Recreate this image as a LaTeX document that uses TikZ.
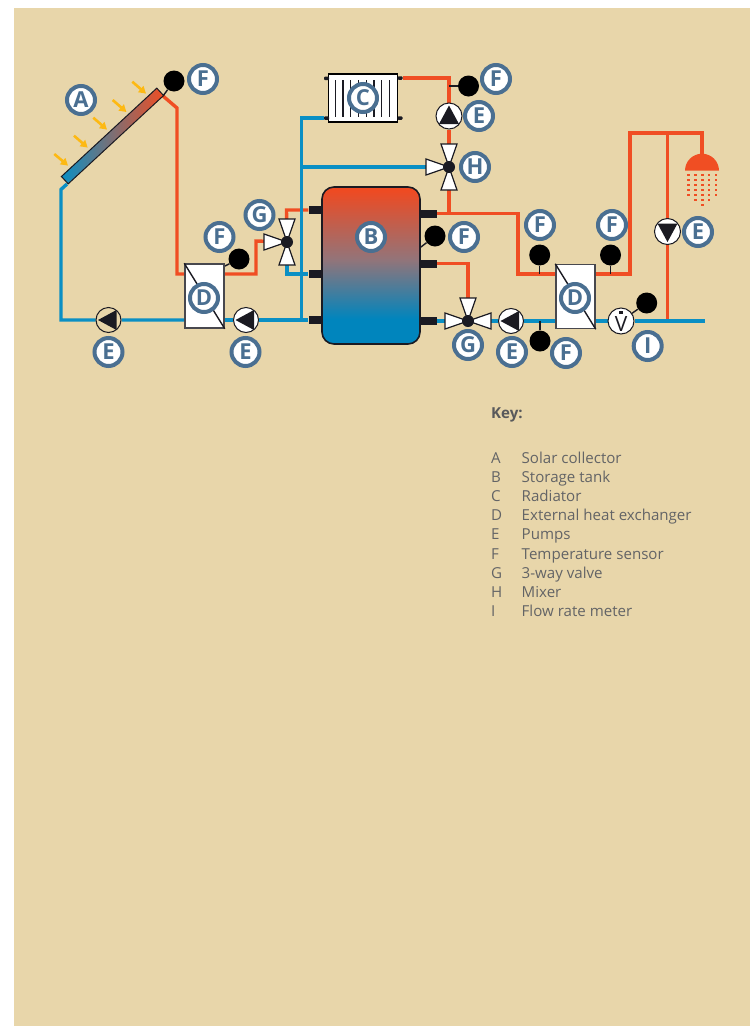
\documentclass[tikz,border=0pt]{standalone}
\usepackage{fontspec}
\setmainfont{Open Sans}
\pgfdeclarelayer{backdrop}
\pgfdeclarelayer{pipes}
\pgfsetlayers{backdrop,pipes,main}
\definecolor{paper}{HTML}{E8D6AA}
\definecolor{hot}{HTML}{F04E23}
\definecolor{cold}{HTML}{0A8FC4}
\definecolor{ring}{HTML}{4A6F91}
\definecolor{sun}{HTML}{FDB913}
\definecolor{ink}{HTML}{1A1A22}
\definecolor{keyhead}{HTML}{58595B}
\definecolor{keytext}{HTML}{636466}
\definecolor{tkhot}{HTML}{EE4A22}
\definecolor{tkmid}{HTML}{937479}
\definecolor{tkcold}{HTML}{0085BD}
\pgfdeclareverticalshading{tankshade}{100bp}{color(0bp)=(tkcold); color(33bp)=(tkcold); color(52bp)=(tkmid); color(74bp)=(tkhot); color(100bp)=(tkhot)}
\usetikzlibrary{arrows.meta}
\tikzset{
  x=1pt,y=-1pt,
  hotpipe/.style={draw=hot,line width=3.4pt,line join=miter},
  coldpipe/.style={draw=cold,line width=3.4pt,line join=miter},
  tag/.style={circle,draw=ring,line width=4pt,fill=white,minimum size=28pt,inner sep=0pt,
    text=ring,font=\fontsize{22}{22}\selectfont\bfseries},
  sensor/.style={circle,fill=black,minimum size=21pt,inner sep=0pt},
  leader/.style={draw=ink,line width=1.4pt},
  pumpbody/.style={circle,draw=ink,line width=1pt,minimum size=#1,inner sep=0pt},
  hx/.style={rectangle,draw=ink!80,line width=1.5pt,fill=white,minimum width=39pt,minimum height=64pt,inner sep=0pt},
  port/.style={rectangle,fill=ink,minimum width=14pt,minimum height=8pt,inner sep=0pt},
  stub/.style={rectangle,rounded corners=1pt,fill=ink,minimum width=5pt,minimum height=3.5pt,inner sep=0pt},
  ray/.style={draw=sun,line width=2.6pt,-{Triangle[length=7pt,width=8pt]}},
  keyrow/.style={anchor=base west,inner sep=0pt,text=keytext,font=\fontsize{15.1}{17}\selectfont},
  valvearm/.style={draw=ink,line width=1.2pt,fill=white,line join=miter},
  dropdot/.style={fill=hot,minimum size=2.4pt,inner sep=0pt,rectangle}
}
% pump: name, position, rotation (0 = pointing left), circle fill, size
\newcommand{\pumpsym}[5]{%
  \node[pumpbody=#5,fill=#4] (#1) at (#2) {};
  \fill[ink,shift={(#2)},rotate=#3] (-10.5,0) -- (8,-10) -- (8,10) -- cycle;
}
\newcommand{\valvearmsym}[2]{%
  \draw[valvearm,shift={(#1)},rotate=#2] (0,0) -- (23,-8) -- (23,8) -- cycle;
}
\begin{document}
\begin{tikzpicture}
\useasboundingbox (0,0) rectangle (750,1026);
\begin{pgfonlayer}{backdrop}
  \fill[white] (0,0) rectangle (750,1026);
  \fill[paper] (14,8) rectangle (750,1026);
\end{pgfonlayer}

% solar collector and rays
\node[rotate=42.8,draw=ink,line width=1pt,minimum width=130pt,minimum height=10pt,inner sep=0pt,
  left color=cold,right color=hot] (collector) at (112.5,136) {};
\coordinate (colhot) at (163,96);
\coordinate (colcold) at (67,184);
\coordinate (r1a) at (132.3,81.7); \coordinate (r1b) at (146,93.6);
\coordinate (r2a) at (112.7,100);  \coordinate (r2b) at (126.4,112);
\coordinate (r3a) at (93.3,117.7); \coordinate (r3b) at (107,129.6);
\coordinate (r4a) at (74,135.7);   \coordinate (r4b) at (87.7,147.6);
\coordinate (r5a) at (54.3,154);   \coordinate (r5b) at (68,165.6);
\foreach \n in {1,...,5} \draw[ray] (r\n a) -- (r\n b);

% heat exchangers
\node[hx] (hxA) at (204.5,296) {};
\draw[leader] (hxA.north west) -- (hxA.south east);
\node[hx] (hxB) at (575.5,296.5) {};
\draw[leader] (hxB.north west) -- (hxB.south east);

% tank
\node[draw=ink,line width=1.6pt,rounded corners=12pt,shade,shading=tankshade,
  minimum width=98pt,minimum height=157pt,inner sep=0pt] (tank) at (371,265.5) {};
\node[port] (tl1) at (315.5,210) {};
\node[port] (tl2) at (315.5,274) {};
\node[port] (tl3) at (315.5,320) {};
\node[port,minimum width=17pt] (tr1) at (428.5,213.5) {};
\node[port,minimum width=17pt] (tr2) at (428.5,263.5) {};
\node[port,minimum width=17pt] (tr3) at (428.5,321) {};

% radiator
\node[rectangle,draw=black,line width=1.6pt,fill=white,minimum width=69pt,minimum height=48pt,inner sep=0pt] (radiator) at (363,98) {};
\foreach \sx in {335.3,343,350.7,358.3,366.3,374,381.7,389.7}
  \draw[ink,line width=1.3pt] (\sx,80) -- (\sx,116.7);
\node[stub] (radtl) at (326.5,78.3) {};
\node[stub] (radbl) at (326.5,118) {};
\node[stub] (radtr) at (400,78) {};
\node[stub] (radbr) at (400,118) {};

% pumps
\pumpsym{pumpA}{108.5,320}{0}{paper}{25pt}
\pumpsym{pumpB}{246,320}{0}{white}{25pt}
\pumpsym{pumpC}{511,321}{0}{white}{25pt}
\pumpsym{pumpD}{449,116}{-90}{white}{26pt}
\pumpsym{pumpE}{667.5,231.5}{90}{white}{26pt}

% valves
\valvearmsym{287,242}{180}\valvearmsym{287,242}{90}\valvearmsym{287,242}{-90}
\node[circle,fill=ink,minimum size=12pt,inner sep=0pt] (valveA) at (287,242) {};
\valvearmsym{449,167}{180}\valvearmsym{449,167}{90}\valvearmsym{449,167}{-90}
\node[circle,fill=ink,minimum size=12pt,inner sep=0pt] (mixer) at (449,167) {};
\valvearmsym{468,321}{180}\valvearmsym{468,321}{0}\valvearmsym{468,321}{90}
\node[circle,fill=ink,minimum size=12pt,inner sep=0pt] (valveB) at (468,321) {};

% flow meter
\node[pumpbody=26pt,fill=white] (meter) at (621,321) {};
\node[inner sep=0pt,text=ink,font=\fontsize{21}{21}\selectfont] (meterV) at (621,324) {V};
\node[rectangle,fill=ink,minimum size=3.4pt,inner sep=0pt] (meterdot) at (621,312.5) {};

% sensors
\node[sensor] (sA) at (174,81) {};
\node[sensor] (sB) at (239,259) {};
\node[sensor] (sC) at (468.5,86) {};
\node[sensor] (sD) at (435,236) {};
\node[sensor] (sE) at (540,341) {};
\node[sensor] (sF) at (539.7,255) {};
\node[sensor] (sG) at (610.5,255) {};
\node[sensor] (sH) at (646.7,303) {};

% shower
\fill[hot] (685,170.7) arc[start angle=180,end angle=360,radius=17] -- cycle;
\coordinate (showerin) at (702,156);
\foreach \dy in {175,180,185,190,195}
  \foreach \dx in {688.3,695.3,702.3,709,715.7}
    \node[dropdot] at (\dx,\dy) {};
\foreach \dx in {695.3,702.3,709} \node[dropdot] at (\dx,200) {};
\node[dropdot] at (702.3,205) {};

% free pipe bends and ends
\coordinate (endcold) at (705,321);

\begin{pgfonlayer}{pipes}
  % solar loop
  \draw[coldpipe] (colcold) -- (61,189.5) -- (61,320) -- (pumpA) -- (pumpA -| hxA.west);
  \draw[hotpipe] (colhot) -- (177,108) -- (177,274) -- (hxA.west |- 0,274);
  % charge loop
  \draw[hotpipe] (hxA.east |- 0,274) -- (256,274) -- (256,241) -- (valveA);
  \draw[hotpipe] (valveA) -- (286.5,210) -- (tl1);
  \draw[coldpipe] (valveA) -- (287,274) -- (tl2);
  \draw[coldpipe] (pumpB -| hxA.east) -- (pumpB) -- (tl3);
  % heating loop
  \draw[coldpipe] (301.5,320) -- (301.5,118) -- (radbl);
  \draw[coldpipe] (301.5,167) -- (mixer);
  \draw[hotpipe] (radtr) -- (449,78) -- (pumpD);
  \draw[hotpipe] (pumpD) -- (mixer);
  \draw[hotpipe] (mixer) -- (tr1 -| mixer);
  % hot water loop
  \draw[hotpipe] (tr1) -- (518,213.5) -- (518,274) -- (hxB.west |- 0,274);
  \draw[hotpipe] (tr2) -- (468,263.5) -- (valveB);
  \draw[coldpipe] (tr3) -- (valveB);
  \draw[coldpipe] (valveB) -- (pumpC);
  \draw[coldpipe] (pumpC) -- (pumpC -| hxB.west);
  \draw[hotpipe] (hxB.east |- 0,274) -- (630,274) -- (630,133) -- (702,133) -- (showerin);
  \draw[hotpipe] (667.5,133) -- (pumpE);
  \draw[hotpipe] (pumpE) -- (667.5,321);
  \draw[coldpipe] (meter -| hxB.east) -- (meter);
  \draw[coldpipe] (meter) -- (endcold);
  % sensor leaders
  \draw[leader] (sA) -- (colhot);
  \draw[leader] (sB) -- (225,266);
  \draw[leader] (sC) -- (449,86);
  \draw[leader] (sD) -- (421,247);
  \draw[leader] (sE) -- (540,321);
  \draw[leader] (sF) -- (539.7,274);
  \draw[leader] (sG) -- (610.5,274);
  \draw[leader] (sH) -- (meter);
\end{pgfonlayer}

% letter tags
\node[tag] (tA) at (81,100) {A};
\node[tag] (tF1) at (203,79) {F};
\node[tag] (tF2) at (219.5,237) {F};
\node[tag] (tG1) at (259.5,215) {G};
\node[tag] (tD1) at (204,298) {D};
\node[tag] (tE1) at (108.5,352) {E};
\node[tag] (tE2) at (245.5,352) {E};
\node[tag] (tC) at (363,98) {C};
\node[tag] (tF3) at (496,79) {F};
\node[tag] (tE3) at (479,116) {E};
\node[tag] (tH) at (475,167) {H};
\node[tag] (tB) at (371,237) {B};
\node[tag] (tF4) at (464,237) {F};
\node[tag] (tG2) at (468,345) {G};
\node[tag] (tE4) at (512,352) {E};
\node[tag] (tF5) at (566,353) {F};
\node[tag] (tF6) at (540,225) {F};
\node[tag] (tF7) at (612,225) {F};
\node[tag] (tD2) at (575,298) {D};
\node[tag] (tE5) at (698,232) {E};
\node[tag] (tI) at (647.7,346) {I};

% key
\node[keyrow,text=keyhead,font=\fontsize{15.1}{17}\selectfont\bfseries] (keytitle) at (491,418) {Key:};
\foreach \i/\l/\t in {0/A/Solar collector,1/B/Storage tank,2/C/Radiator,3/D/External heat exchanger,
  4/E/Pumps,5/F/Temperature sensor,6/G/3-way valve,7/H/Mixer,8/I/Flow rate meter}{
  \node[keyrow] (kl\i) at (491,463.3+19.17*\i) {\l};
  \node[keyrow] (kt\i) at (521.5,463.3+19.17*\i) {\t};
}
\end{tikzpicture}
\end{document}
